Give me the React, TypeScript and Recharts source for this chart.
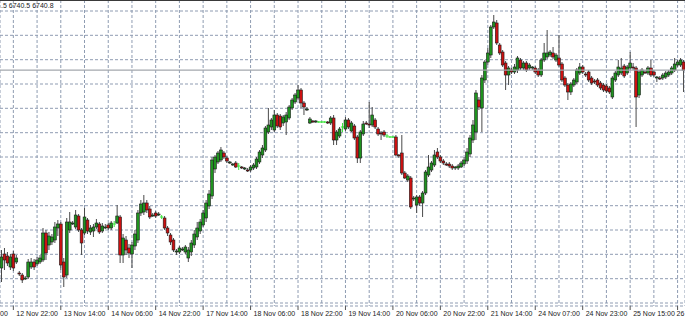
import { ComposedChart, Bar, XAxis, YAxis, CartesianGrid, ReferenceLine } from "recharts";

// hourly bars, 12 Nov 18:00 .. 26 Nov (one value per bar)
const opens = [
  6543, 6557, 6555, 6544, 6557, 6549, 6538, 6536, 6532, 6534,
  6544, 6549, 6547, 6549, 6551, 6578, 6566, 6569, 6571, 6583,
  6587, 6549, 6536, 6581, 6587, 6584, 6595, 6581, 6578, 6591,
  6579, 6580, 6584, 6587, 6580, 6583, 6586, 6583, 6587, 6588,
  6594, 6556, 6571, 6563, 6557, 6565, 6571, 6598, 6599, 6608,
  6602, 6595, 6598, 6596, 6594, 6593, 6583, 6576, 6571, 6559,
  6559, 6561, 6559, 6553, 6559, 6566, 6574, 6580, 6586, 6593,
  6605, 6615, 6642, 6649, 6651, 6658, 6653, 6648, 6646, 6648,
  6645, 6644, 6642, 6641, 6641, 6643, 6644, 6649, 6656, 6661,
  6679, 6684, 6681, 6696, 6695, 6688, 6689, 6693, 6703, 6709,
  6713, 6721, 6708, 6701, 6688, 6690, 6689, 6689, 6689, 6689,
  6689, 6688, 6693, 6671, 6675, 6684, 6682, 6691, 6680, 6685,
  6674, 6653, 6677, 6688, 6687, 6686, 6691, 6682, 6678, 6679,
  6675, 6674, 6674, 6674, 6656, 6658, 6638, 6631, 6633, 6612,
  6606, 6614, 6608, 6618, 6636, 6641, 6646, 6659, 6654, 6650,
  6647, 6647, 6645, 6643, 6643, 6644, 6647, 6650, 6657, 6671,
  6679, 6711, 6703, 6731, 6749, 6756, 6784, 6788, 6766, 6759,
  6748, 6736, 6741, 6739, 6741, 6751, 6743, 6748, 6743, 6743,
  6743, 6741, 6736, 6751, 6754, 6756, 6758, 6751, 6753, 6747,
  6733, 6726, 6719, 6726, 6729, 6738, 6744, 6737, 6739, 6733,
  6730, 6731, 6728, 6726, 6725, 6723, 6714, 6731, 6736, 6738,
  6745, 6738, 6743, 6744, 6743, 6716, 6736, 6739, 6738, 6743,
  6739, 6733, 6733, 6733, 6734, 6736, 6738, 6741, 6746, 6746,
  6749,
];

const highs = [
  6561, 6563, 6559, 6557, 6560, 6556, 6540, 6538, 6535, 6552,
  6553, 6552, 6554, 6556, 6583, 6581, 6579, 6577, 6589, 6591,
  6589, 6553, 6593, 6599, 6590, 6601, 6597, 6583, 6603, 6593,
  6586, 6587, 6592, 6589, 6588, 6587, 6588, 6590, 6590, 6606,
  6596, 6577, 6575, 6567, 6569, 6581, 6601, 6611, 6616, 6611,
  6605, 6598, 6600, 6599, 6596, 6595, 6585, 6578, 6573, 6562,
  6565, 6564, 6566, 6564, 6571, 6581, 6589, 6592, 6601, 6611,
  6621, 6654, 6656, 6660, 6664, 6660, 6655, 6650, 6648, 6650,
  6648, 6645, 6644, 6643, 6646, 6648, 6654, 6661, 6666, 6685,
  6703, 6693, 6701, 6698, 6697, 6696, 6699, 6706, 6713, 6718,
  6726, 6723, 6710, 6704, 6694, 6691, 6691, 6690, 6690, 6690,
  6690, 6695, 6696, 6681, 6684, 6688, 6694, 6693, 6690, 6687,
  6676, 6681, 6690, 6690, 6709, 6704, 6693, 6684, 6680, 6681,
  6677, 6675, 6675, 6676, 6657, 6676, 6640, 6637, 6635, 6615,
  6616, 6616, 6620, 6641, 6656, 6650, 6661, 6663, 6656, 6652,
  6649, 6649, 6647, 6645, 6647, 6650, 6654, 6663, 6676, 6691,
  6721, 6714, 6736, 6751, 6763, 6786, 6796, 6791, 6768, 6761,
  6750, 6745, 6743, 6747, 6755, 6753, 6750, 6750, 6748, 6745,
  6745, 6743, 6753, 6768, 6781, 6761, 6764, 6758, 6776, 6749,
  6735, 6728, 6729, 6733, 6743, 6748, 6746, 6739, 6741, 6735,
  6732, 6733, 6730, 6728, 6727, 6725, 6735, 6740, 6751, 6753,
  6747, 6746, 6759, 6748, 6745, 6741, 6743, 6741, 6745, 6751,
  6741, 6735, 6735, 6738, 6740, 6741, 6745, 6753, 6751, 6753,
  6751,
];

const lows = [
  6529, 6541, 6545, 6541, 6540, 6547, 6535, 6528, 6531, 6532,
  6542, 6541, 6545, 6547, 6549, 6551, 6561, 6566, 6568, 6575,
  6541, 6524, 6533, 6578, 6586, 6582, 6579, 6556, 6576, 6577,
  6576, 6574, 6582, 6577, 6578, 6582, 6581, 6581, 6584, 6587,
  6548, 6548, 6556, 6553, 6543, 6561, 6568, 6595, 6596, 6598,
  6592, 6594, 6593, 6595, 6592, 6581, 6575, 6566, 6559, 6556,
  6557, 6560, 6557, 6549, 6555, 6563, 6571, 6577, 6584, 6589,
  6602, 6612, 6638, 6647, 6649, 6652, 6648, 6647, 6645, 6643,
  6641, 6642, 6641, 6639, 6639, 6641, 6642, 6647, 6653, 6659,
  6677, 6681, 6679, 6683, 6681, 6685, 6676, 6691, 6701, 6707,
  6711, 6703, 6696, 6700, 6687, 6688, 6688, 6688, 6688, 6688,
  6687, 6686, 6666, 6666, 6673, 6679, 6680, 6682, 6679, 6671,
  6648, 6648, 6675, 6686, 6683, 6684, 6682, 6675, 6671, 6674,
  6673, 6673, 6673, 6655, 6653, 6636, 6632, 6629, 6602, 6610,
  6598, 6605, 6594, 6616, 6634, 6639, 6644, 6652, 6648, 6646,
  6645, 6643, 6641, 6641, 6641, 6643, 6645, 6647, 6654, 6668,
  6671, 6701, 6679, 6728, 6746, 6753, 6782, 6766, 6756, 6744,
  6721, 6726, 6737, 6737, 6738, 6741, 6741, 6739, 6741, 6741,
  6737, 6734, 6734, 6749, 6752, 6754, 6752, 6749, 6744, 6729,
  6724, 6711, 6716, 6724, 6727, 6736, 6737, 6734, 6729, 6726,
  6727, 6724, 6721, 6719, 6718, 6717, 6712, 6729, 6734, 6736,
  6733, 6736, 6741, 6741, 6684, 6713, 6734, 6737, 6736, 6734,
  6734, 6729, 6731, 6731, 6732, 6734, 6736, 6739, 6744, 6744,
  6719,
];

const closes = [
  6554, 6551, 6548, 6554, 6543, 6553, 6537, 6531, 6533, 6549,
  6549, 6544, 6551, 6553, 6578, 6558, 6575, 6574, 6584, 6587,
  6546, 6534, 6589, 6589, 6588, 6596, 6581, 6568, 6594, 6580,
  6583, 6584, 6588, 6579, 6585, 6584, 6583, 6588, 6587, 6595,
  6556, 6573, 6561, 6558, 6566, 6577, 6598, 6607, 6608, 6601,
  6594, 6596, 6595, 6597, 6594, 6583, 6578, 6569, 6561, 6560,
  6563, 6562, 6564, 6561, 6568, 6577, 6583, 6589, 6598, 6608,
  6617, 6651, 6654, 6658, 6661, 6654, 6650, 6649, 6647, 6644,
  6645, 6643, 6643, 6640, 6644, 6646, 6652, 6659, 6663, 6683,
  6686, 6691, 6696, 6685, 6684, 6694, 6696, 6704, 6711, 6716,
  6721, 6708, 6704, 6702, 6692, 6689, 6690, 6689, 6689, 6689,
  6688, 6693, 6671, 6679, 6682, 6684, 6691, 6684, 6688, 6673,
  6653, 6679, 6687, 6687, 6686, 6696, 6684, 6677, 6677, 6676,
  6675, 6674, 6674, 6656, 6655, 6638, 6633, 6635, 6604, 6613,
  6614, 6608, 6618, 6639, 6644, 6648, 6656, 6654, 6650, 6648,
  6646, 6645, 6643, 6644, 6645, 6648, 6651, 6659, 6673, 6686,
  6718, 6704, 6733, 6749, 6758, 6784, 6789, 6768, 6758, 6746,
  6736, 6743, 6739, 6744, 6753, 6743, 6748, 6741, 6746, 6744,
  6739, 6736, 6751, 6758, 6758, 6759, 6754, 6756, 6746, 6731,
  6726, 6719, 6727, 6731, 6741, 6744, 6739, 6736, 6731, 6728,
  6729, 6726, 6723, 6721, 6720, 6719, 6733, 6738, 6744, 6743,
  6735, 6744, 6748, 6743, 6714, 6739, 6741, 6738, 6743, 6736,
  6736, 6734, 6732, 6736, 6738, 6739, 6743, 6747, 6749, 6751,
  6740.8,
];

// labelled ticks: bar 4 and every 16th bar after it
const timeLabels = [
  "12 Nov 22:00", "13 Nov 14:00", "14 Nov 06:00", "14 Nov 22:00", "17 Nov 14:00",
  "18 Nov 06:00", "18 Nov 22:00", "19 Nov 14:00", "20 Nov 06:00", "20 Nov 22:00",
  "21 Nov 14:00", "24 Nov 07:00", "24 Nov 23:00", "25 Nov 15:00", "26",
];
// only the tail of the label left of the first tick shows
const leftLabel = "00";
const headerText = ".5 6740.5 6740.8";
const gridPrices = [6800, 6775.7, 6751.3, 6727, 6702.7, 6678.3, 6654, 6629.7, 6605.3, 6581, 6556.7, 6532.3, 6508];

const W = 685;
const H = 320;
const FONT = '"Liberation Sans", Arial, sans-serif';

const data = opens.map((o, i) => ({ i, open: o, high: highs[i], low: lows[i], close: closes[i] }));
const gridTicks = data.filter((d) => d.i % 8 === 4).map((d) => d.i);

const Candle = (props: any) => {
  const { x, y, width, height, payload } = props;
  const { open, close, high, low } = payload;
  const top = Math.min(y, y + height);
  const h = Math.abs(height);
  const cx = x + width / 2;
  const span = high - low || 1;
  const py = (v: number) => top + ((high - v) / span) * h;
  const bw = 2.8;
  if (open === close) {
    const yy = py(open);
    return (
      <g>
        <line x1={cx} x2={cx} y1={top} y2={top + h} stroke="#3ce83c" strokeWidth={1} />
        <line x1={cx - bw / 2 - 0.3} x2={cx + bw / 2 + 0.3} y1={yy} y2={yy} stroke="#3ce83c" strokeWidth={1.1} />
      </g>
    );
  }
  const bull = close > open;
  const bTop = py(Math.max(open, close));
  const bBot = py(Math.min(open, close));
  return (
    <g>
      <line x1={cx} x2={cx} y1={top} y2={top + h} stroke="#4a4a4a" strokeWidth={1} />
      <rect
        x={cx - bw / 2}
        y={bTop}
        width={bw}
        height={Math.max(bBot - bTop, 1)}
        fill={bull ? "#1f931f" : "#cc1111"}
        stroke="#1a1a1a"
        strokeWidth={0.6}
      />
    </g>
  );
};

const TimeTick = (props: any) => {
  const { x, payload } = props;
  const idx = payload.value;
  if ((idx - 4) % 16 !== 0) return <g />;
  const label = timeLabels[(idx - 4) / 16];
  // keep the short last label inside the picture
  const tx = Math.min(x + 3, W - 8.5);
  return (
    <g>
      <line x1={x} x2={x} y1={306} y2={310} stroke="#555" strokeWidth={1} />
      <text x={tx} y={316} fontSize={7} fill="#222" fontFamily={FONT}>
        {label}
      </text>
      {idx === 4 && (
        <text x={0} y={316} fontSize={7} fill="#222" fontFamily={FONT}>
          {leftLabel}
        </text>
      )}
    </g>
  );
};

export default function App() {
  return (
    <div
      style={{
        position: "absolute",
        left: 0,
        top: 0,
        width: W,
        height: H,
        overflow: "hidden",
        background: "#fff",
        fontFamily: FONT,
      }}
    >
      <ComposedChart width={W} height={H} data={data} margin={{ top: 0, right: 0, bottom: 0, left: 0 }} barCategoryGap={0}>
        <CartesianGrid stroke="#8f9cb2" strokeDasharray="3 2" strokeWidth={1} />
        <XAxis
          dataKey="i"
          type="number"
          domain={[-0.5, data.length - 0.5]}
          ticks={gridTicks}
          interval={0}
          height={14}
          axisLine={false}
          tickLine={false}
          tick={<TimeTick />}
        />
        <YAxis type="number" domain={[6505, 6811]} ticks={gridPrices} hide allowDataOverflow />
        <ReferenceLine y={closes[closes.length - 1]} stroke="#a3a7ad" strokeWidth={1.2} />
        <Bar dataKey={(d: any) => [d.low, d.high]} shape={<Candle />} isAnimationActive={false} />
      </ComposedChart>
      <div style={{ position: "absolute", left: 0, top: 0, width: W, height: 1, background: "#3a3a3a" }} />
      <div
        style={{
          position: "absolute",
          left: 1,
          top: 2,
          fontSize: 7,
          lineHeight: "7px",
          color: "#222",
          whiteSpace: "nowrap",
        }}
      >
        {headerText}
      </div>
    </div>
  );
}
